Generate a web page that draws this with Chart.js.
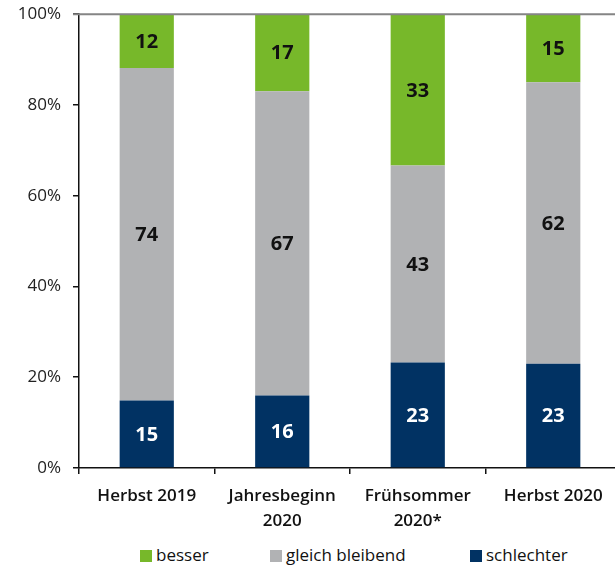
<!DOCTYPE html>
<html>
<head>
<meta charset="utf-8">
<script src="https://cdn.jsdelivr.net/npm/chart.js@4"></script>
<style>
  html, body { margin: 0; padding: 0; background: #fff; overflow: hidden; }
  #wrap { width: 625px; height: 538px; position: absolute; top: -8px; left: 0; }
  #legend { position: absolute; top: 544px; left: 0; width: 615px; height: 22px; font-family: 'Open Sans', sans-serif; font-size: 17px; font-weight: 500; color: #111; }
  #legend span.item { position: absolute; top: 0; line-height: 22px; white-space: nowrap; }
  #legend i { display: inline-block; width: 12px; height: 12px; margin-right: 4px; vertical-align: -1px; }
</style>
</head>
<body>
<div id="wrap"><canvas id="chart"></canvas></div>
<div id="legend"></div>
<script>
const categories = ['Herbst 2019', ['Jahresbeginn', '2020'], ['Frühsommer', '2020*'], 'Herbst 2020'];
const schlechter = [15, 16, 23, 23];
const gleichBleibend = [74, 67, 43, 62];
const besser = [12, 17, 33, 15];
const yTicks = [0, 20, 40, 60, 80, 100];

const FONT = "'Open Sans', 'Liberation Sans', sans-serif";

// Balken auf 100 % normieren
const totals = categories.map((_, i) => schlechter[i] + gleichBleibend[i] + besser[i]);
const toPct = arr => arr.map((v, i) => v / totals[i] * 100);

const segmentLabels = {
  id: 'segmentLabels',
  afterDatasetsDraw(chart) {
    const ctx = chart.ctx;
    ctx.save();
    ctx.font = '700 20px ' + FONT;
    ctx.textAlign = 'center';
    ctx.textBaseline = 'middle';
    chart.data.datasets.forEach((ds, di) => {
      const meta = chart.getDatasetMeta(di);
      meta.data.forEach((bar, i) => {
        const y = (bar.y + bar.base) / 2;
        ctx.fillStyle = ds.labelColor;
        ctx.fillText(ds.raw[i], bar.x, y + 1);
      });
    });
    ctx.restore();
  }
};

const topLine = {
  id: 'topLine',
  afterDatasetsDraw(chart) {
    const { ctx, chartArea } = chart;
    ctx.save();
    ctx.strokeStyle = '#858585';
    ctx.lineWidth = 2;
    ctx.beginPath();
    ctx.moveTo(chartArea.left - 6, chartArea.top);
    ctx.lineTo(chart.width, chartArea.top);
    ctx.stroke();
    ctx.restore();
  }
};

const ctx = document.getElementById('chart').getContext('2d');
const chart = new Chart(ctx, {
  type: 'bar',
  data: {
    labels: categories,
    datasets: [
      { label: 'schlechter', data: toPct(schlechter), raw: schlechter, backgroundColor: '#013263', labelColor: '#ffffff' },
      { label: 'gleich bleibend', data: toPct(gleichBleibend), raw: gleichBleibend, backgroundColor: '#b1b2b4', labelColor: '#111111' },
      { label: 'besser', data: toPct(besser), raw: besser, backgroundColor: '#77b82a', labelColor: '#111111' }
    ]
  },
  options: {
    responsive: true,
    maintainAspectRatio: false,
    animation: false,
    layout: { padding: { top: 5, right: 4, left: 0, bottom: 2 } },
    datasets: { bar: { barPercentage: 0.4, categoryPercentage: 1 } },
    plugins: {
      tooltip: { enabled: false },
      legend: { display: false }
    },
    scales: {
      x: {
        stacked: true,
        border: { color: '#111', width: 1.5 },
        grid: { drawOnChartArea: false, tickLength: 6, color: '#111', lineWidth: 1.5 },
        ticks: { color: '#111', padding: 10, font: { family: FONT, size: 17, weight: '600', lineHeight: 1.45 } },
        afterFit(scale) { scale.height = 60; }
      },
      y: {
        stacked: true,
        min: 0,
        max: 100,
        afterBuildTicks(scale) { scale.ticks = yTicks.map(v => ({ value: v })); },
        border: { color: '#111', width: 1.5 },
        grid: { drawOnChartArea: false, tickLength: 6, color: '#111', lineWidth: 1.5 },
        ticks: {
          color: '#222',
          padding: 12,
          font: { family: FONT, size: 17, weight: '400' },
          callback: v => v + '%'
        },
        afterFit(scale) { scale.width = 79; }
      }
    }
  },
  plugins: [segmentLabels, topLine]
});

// Legende (Reihenfolge wie im Original: besser, gleich bleibend, schlechter)
const legendPos = [140, 270, 470];
const legend = document.getElementById('legend');
chart.data.datasets.slice().reverse().forEach((ds, i) => {
  const s = document.createElement('span');
  s.className = 'item';
  s.style.left = legendPos[i] + 'px';
  s.innerHTML = '<i style="background:' + ds.backgroundColor + '"></i>' + ds.label;
  legend.appendChild(s);
});
</script>
</body>
</html>
